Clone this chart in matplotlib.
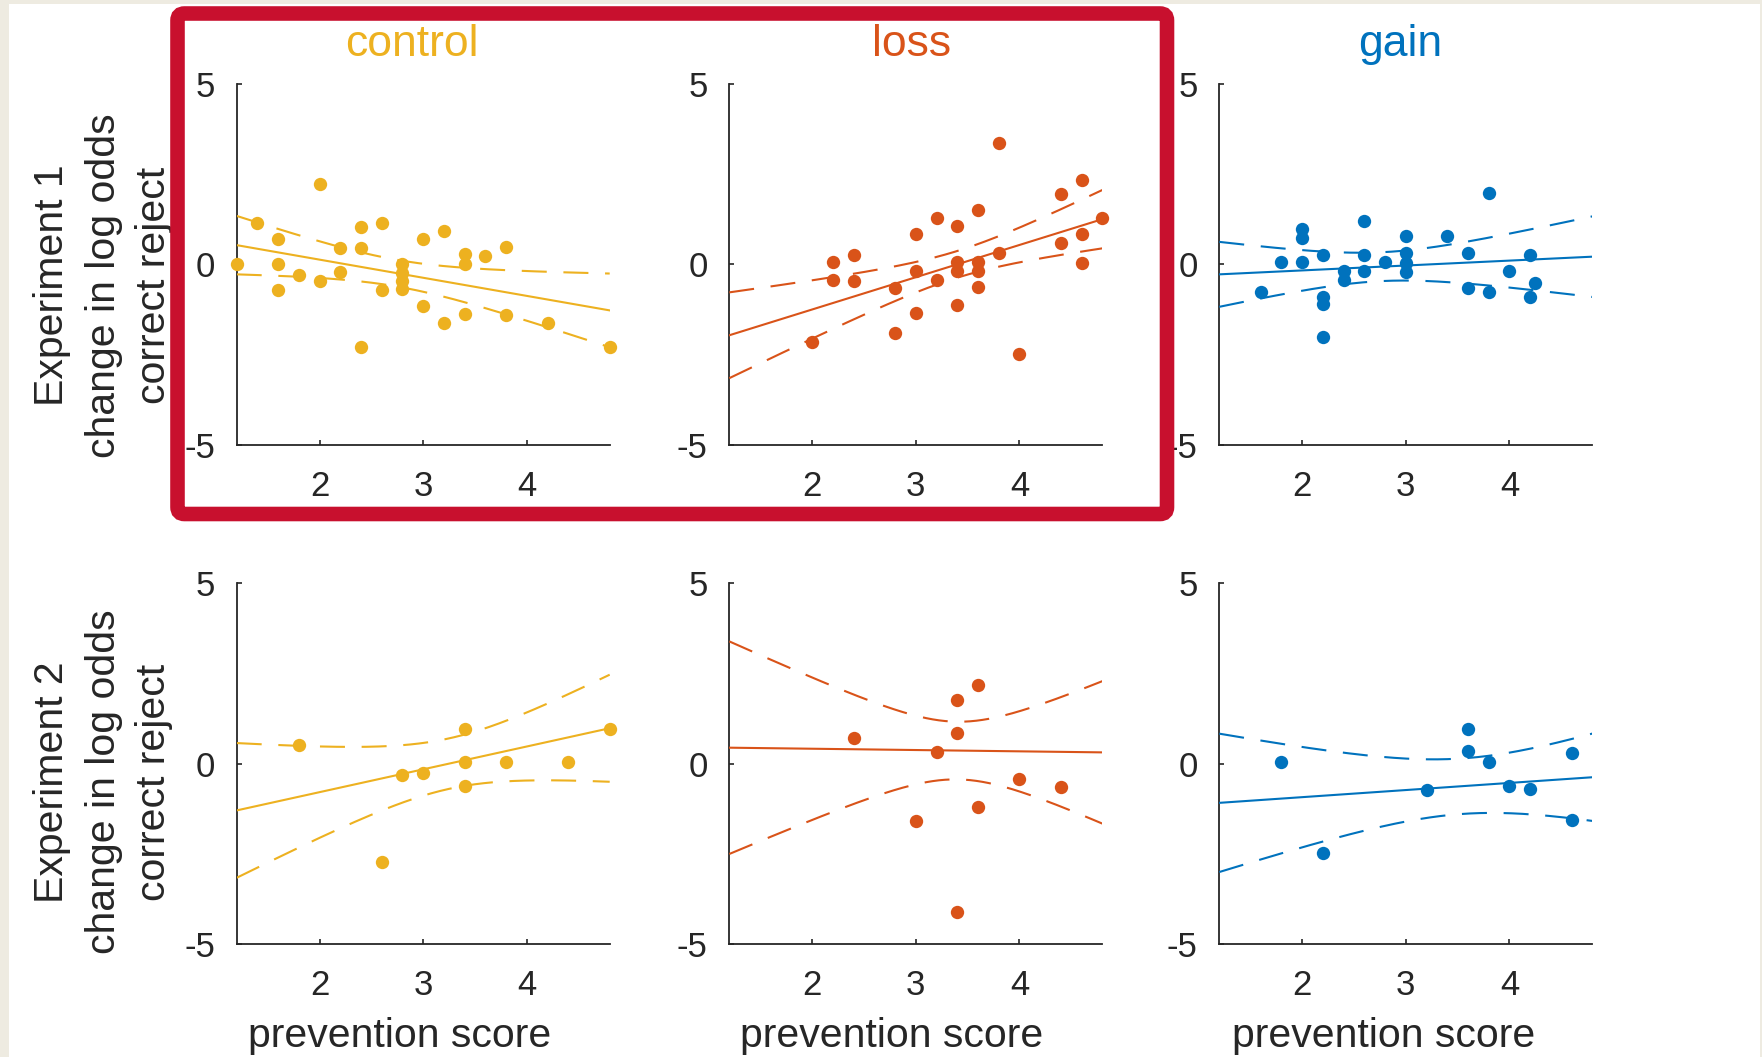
import numpy as np
import matplotlib
matplotlib.use("Agg")
import matplotlib.pyplot as plt
from matplotlib.patches import FancyBboxPatch, Rectangle

# ---------------- data ----------------
conditions = ["control", "loss", "gain"]
experiments = ["Experiment 1", "Experiment 2"]
x_ticks = [2, 3, 4]
y_ticks = [-5, 0, 5]

# Experiment 1
e1_control_x = [1.2, 1.4, 1.6, 1.6, 1.6, 1.8, 2.0, 2.0, 2.2, 2.2, 2.4, 2.4, 2.4, 2.6, 2.6,
                2.8, 2.8, 2.8, 2.8, 3.0, 3.0, 3.2, 3.2, 3.4, 3.4, 3.4, 3.6, 3.8, 3.8, 4.2, 4.8]
e1_control_y = [0.00, 1.15, 0.70, 0.00, -0.72, -0.30, 2.23, -0.46, 0.46, -0.21, 1.04, 0.46, -2.30,
                1.15, -0.72, 0.00, -0.23, -0.46, -0.70, 0.69, -1.16, 0.92, -1.63, 0.28, 0.02,
                -1.38, 0.24, 0.48, -1.40, -1.64, -2.30]

e1_loss_x = [2.0, 2.2, 2.2, 2.4, 2.4, 2.8, 2.8, 3.0, 3.0, 3.0, 3.2, 3.2, 3.4, 3.4, 3.4, 3.4,
             3.6, 3.6, 3.6, 3.6, 3.8, 3.8, 4.0, 4.4, 4.4, 4.6, 4.6, 4.6, 4.8]
e1_loss_y = [-2.17, 0.05, -0.44, 0.26, -0.46, -0.66, -1.91, 0.84, -0.18, -1.36, 1.28, -0.43,
             1.06, 0.06, -0.20, -1.13, 1.51, 0.06, -0.20, -0.62, 3.36, 0.30, -2.48, 1.94, 0.60,
             2.34, 0.84, 0.03, 1.28]

e1_gain_x = [1.6, 1.8, 2.0, 2.0, 2.0, 2.2, 2.2, 2.2, 2.2, 2.4, 2.4, 2.6, 2.6, 2.6, 2.8,
             3.0, 3.0, 3.0, 3.0, 3.4, 3.6, 3.6, 3.8, 3.8, 4.0, 4.2, 4.2, 4.25]
e1_gain_y = [-0.76, 0.05, 0.97, 0.72, 0.05, 0.26, -0.91, -1.10, -2.02, -0.18, -0.43, 1.21, 0.26,
             -0.18, 0.05, 0.77, 0.30, 0.03, -0.21, 0.77, 0.30, -0.65, 1.97, -0.77, -0.19, 0.26,
             -0.92, -0.53]

# Experiment 2
e2_control_x = [1.8, 2.6, 2.8, 3.0, 3.4, 3.4, 3.4, 3.8, 4.4, 4.8]
e2_control_y = [0.51, -2.73, -0.32, -0.25, 0.97, 0.05, -0.62, 0.05, 0.05, 0.96]

e2_loss_x = [2.4, 3.0, 3.2, 3.4, 3.4, 3.4, 3.6, 3.6, 4.0, 4.4]
e2_loss_y = [0.71, -1.60, 0.31, 1.76, 0.84, -4.12, 2.19, -1.21, -0.42, -0.65]

e2_gain_x = [1.8, 2.2, 3.2, 3.6, 3.6, 3.8, 4.0, 4.2, 4.6, 4.6]
e2_gain_y = [0.05, -2.47, -0.74, 0.96, 0.34, 0.05, -0.61, -0.70, 0.28, -1.56]

# fitted regression line: value at x = 1.2 and at x = 4.8
fit_ends = {
    (0, 0): (0.53, -1.28), (0, 1): (-1.97, 1.25), (0, 2): (-0.28, 0.21),
    (1, 0): (-1.30, 0.98), (1, 1): (0.44, 0.31), (1, 2): (-1.09, -0.38),
}
# 95% confidence band: centre x, half-width at centre, growth rate
band_params = {
    (0, 0): (2.75, 0.37, 0.465), (0, 1): (3.40, 0.37, 0.514), (0, 2): (2.77, 0.40, 0.514),
    (1, 0): (3.25, 0.70, 0.845), (1, 1): (3.40, 0.80, 1.29), (1, 2): (3.55, 0.77, 0.748),
}

points = {
    (0, 0): (e1_control_x, e1_control_y), (0, 1): (e1_loss_x, e1_loss_y),
    (0, 2): (e1_gain_x, e1_gain_y),
    (1, 0): (e2_control_x, e2_control_y), (1, 1): (e2_loss_x, e2_loss_y),
    (1, 2): (e2_gain_x, e2_gain_y),
}

# ---------------- style ----------------
colors = ["#EDB120", "#D95319", "#0072BD"]
ink = "#262626"
beige = "#EEEBE1"
frame_red = "#C8102E"

plt.rcParams["font.family"] = ["Liberation Sans", "DejaVu Sans"]
plt.rcParams["axes.unicode_minus"] = False

W, H = 1762, 1057
fig = plt.figure(figsize=(W / 100, H / 100), dpi=100)
fig.patch.set_facecolor("white")

col_left = [236.7, 729.3, 1219.3]
col_width = 373.0
row_top = [84.0, 583.3]
row_height = 360.5

xlim = (1.2, 4.8)
xs = np.linspace(xlim[0], xlim[1], 300)

lw = 1.5
dash = (0, (12.0, 8.0))

axes = {}
for r in range(2):
    for c in range(3):
        l = col_left[c] / W
        b = 1 - (row_top[r] + row_height) / H
        ax = fig.add_axes([l, b, col_width / W, row_height / H])
        axes[(r, c)] = ax
        col = colors[c]

        px, py = points[(r, c)]
        ax.plot(px, py, "o", ms=9.6, mfc=col, mec="none", clip_on=False, zorder=3)

        y_left, y_right = fit_ends[(r, c)]
        slope = (y_right - y_left) / (xlim[1] - xlim[0])
        fit = y_left + slope * (xs - xlim[0])
        x0, h0, k = band_params[(r, c)]
        half = np.sqrt(h0 ** 2 + (k * (xs - x0)) ** 2)
        ax.plot(xs, fit, color=col, lw=lw, zorder=4)
        ax.plot(xs, fit + half, color=col, lw=lw, ls=dash, zorder=4)
        ax.plot(xs, fit - half, color=col, lw=lw, ls=dash, zorder=4)

        ax.set_xlim(*xlim)
        ax.set_ylim(-5, 5)
        ax.set_xticks(x_ticks)
        ax.set_yticks(y_ticks)
        ax.set_xticklabels([str(t) for t in x_ticks])
        ax.set_yticklabels([str(t) for t in y_ticks])
        for s in ("top", "right"):
            ax.spines[s].set_visible(False)
        for s in ("left", "bottom"):
            ax.spines[s].set_color(ink)
            ax.spines[s].set_linewidth(1.3)
        ax.tick_params(axis="both", direction="in", length=3.6, width=1.2, color=ink,
                       labelcolor=ink, labelsize=25)
        ax.tick_params(axis="x", pad=18.0)
        ax.tick_params(axis="y", pad=15.6)
        ax.set_facecolor("none")

        if r == 0:
            title_x = [412, 912, 1400][c]
            ax.set_title(conditions[c], color=col, fontsize=32,
                         x=(title_x - col_left[c]) / col_width,
                         y=(row_top[r] + row_height - 56) / row_height, pad=0,
                         va="baseline")
        else:
            lab_x = [400, 892, 1384][c]
            ax.set_xlabel("prevention score", fontsize=29.5, color=ink, va="baseline")
            ax.xaxis.set_label_coords((lab_x - col_left[c]) / col_width,
                                      -(1047 - (row_top[r] + row_height)) / row_height)

# three-line y labels to the left of each row
label_lines = [
    ["Experiment 1", "change in log odds", "correct reject"],
    ["Experiment 2", "change in log odds", "correct reject"],
]
baseline_x = [63.3, 115.0, 165.0]
label_center_y = [285.5, 782.0]
for r in range(2):
    for i, line in enumerate(label_lines[r]):
        fig.text(baseline_x[i] / W, 1 - label_center_y[r] / H, line, rotation=90,
                 rotation_mode="anchor", ha="center", va="baseline",
                 fontsize=29.5, color=ink)

# page margins
fig.add_artist(Rectangle((0, 0), 9 / W, 1, transform=fig.transFigure,
                         facecolor=beige, edgecolor="none", zorder=-5))
fig.add_artist(Rectangle((0, 1 - 4 / H), 1, 4 / H, transform=fig.transFigure,
                         facecolor=beige, edgecolor="none", zorder=-5))
fig.add_artist(Rectangle((1 - 2 / W, 0), 2 / W, 1, transform=fig.transFigure,
                         facecolor=beige, edgecolor="none", zorder=-5))

# highlight frame around the experiment-1 control and loss panels
fx0, fx1, fy0, fy1 = 177.5, 1167.0, 13.5, 514.0
frame = FancyBboxPatch((fx0 / 100, (H - fy1) / 100), (fx1 - fx0) / 100, (fy1 - fy0) / 100,
                       boxstyle="round,pad=0,rounding_size=0.07",
                       transform=fig.dpi_scale_trans, facecolor="none",
                       edgecolor=frame_red, linewidth=10.5, zorder=10)
fig.add_artist(frame)

fig.savefig("out.png", dpi=100)
